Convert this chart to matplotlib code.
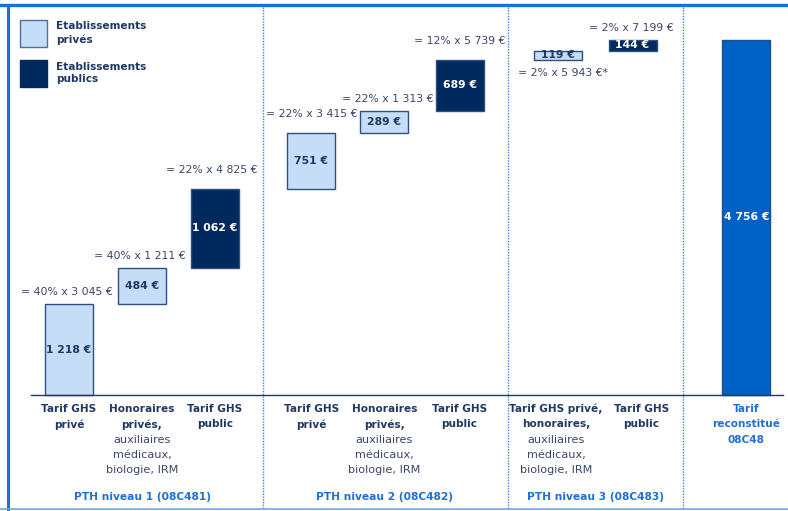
import matplotlib.pyplot as plt
from matplotlib.lines import Line2D
from matplotlib.patches import Rectangle

plt.rcParams["font.family"] = ["DejaVu Sans"]

# montants par composante (en euros)
values = [1218, 484, 1062, 751, 289, 689, 119, 144]
total = 4756
sector = ["prive", "prive", "public", "prive", "prive", "public", "prive", "public"]
value_labels = ["1 218 €", "484 €", "1 062 €", "751 €", "289 €", "689 €", "119 €", "144 €"]
total_label = "4 756 €"
formulas = ["= 40% x 3 045 €", "= 40% x 1 211 €", "= 22% x 4 825 €",
            "= 22% x 3 415 €", "= 22% x 1 313 €", "= 12% x 5 739 €",
            "= 2% x 5 943 €*", "= 2% x 7 199 €"]
cat_bold = [["Tarif GHS", "privé"], ["Honoraires", "privés,"], ["Tarif GHS", "public"],
            ["Tarif GHS", "privé"], ["Honoraires", "privés,"], ["Tarif GHS", "public"],
            ["Tarif GHS privé,", "honoraires,"], ["Tarif GHS", "public"]]
cat_regular = [[], ["auxiliaires", "médicaux,", "biologie, IRM"], [],
               [], ["auxiliaires", "médicaux,", "biologie, IRM"], [],
               ["auxiliaires", "médicaux,", "biologie, IRM"], []]
total_cat = ["Tarif", "reconstitué", "08C48"]
groups = ["PTH niveau 1 (08C481)", "PTH niveau 2 (08C482)", "PTH niveau 3 (08C483)"]
legend_labels = ["Etablissements\nprivés", "Etablissements\npublics"]

LIGHT = "#C6DDF7"
LIGHT_EDGE = "#2F4F80"
NAVY = "#002A5E"
TOTAL = "#0061C6"
TEXT_NAVY = "#1F3864"
FORMULA = "#3B4668"
GROUP_BLUE = "#1F70D2"
FRAME_BLUE = "#1A6FD8"
SEP_BLUE = "#3D85D8"

W, H = 788, 511
# one slot = 73 px, slot 0 centred at x = 69 px; baseline at y = 395 px
SLOT_PX, X0_PX, BASE_PX = 73.0, 69.0, 395.0
K = total / 355.0  # data units per pixel


def px_x(px):
    return (px - X0_PX) / SLOT_PX


def px_y(py):
    return (BASE_PX - py) * K


slots = [0, 1, 2, 3.32, 4.32, 5.35, 6.7, 7.72, 9.28]
bar_w = 48 / SLOT_PX

fig = plt.figure(figsize=(W / 100, H / 100), dpi=100)
ax = fig.add_axes([0, 0, 1, 1])
ax.set_xlim(px_x(0), px_x(W))
ax.set_ylim(px_y(H), px_y(0))
ax.axis("off")

# waterfall
bottoms = []
acc = 0
for v in values:
    bottoms.append(acc)
    acc += v

for i, v in enumerate(values):
    fc = LIGHT if sector[i] == "prive" else NAVY
    ax.bar(slots[i], v, bottom=bottoms[i], width=bar_w, color=fc,
           edgecolor=LIGHT_EDGE, linewidth=1)
    tc = TEXT_NAVY if sector[i] == "prive" else "white"
    ax.text(slots[i], bottoms[i] + v / 2, value_labels[i], ha="center", va="center",
            fontsize=7.8, fontweight="bold", color=tc)

ax.bar(slots[8], total, width=bar_w, color=TOTAL, edgecolor="#1F4E8C", linewidth=1)
ax.text(slots[8], total / 2, total_label, ha="center", va="center",
        fontsize=7.8, fontweight="bold", color="white")

# formula annotations (right edge in px, vertical gap in px)
f_right = [113, 186, 258, 357, 433, 505, 608, 674]
f_gap = [12, 12, 19, 19, 12, 19, -13, 12]
for i, txt in enumerate(formulas):
    if f_gap[i] > 0:
        y = bottoms[i] + values[i] + f_gap[i] * K
    else:
        y = bottoms[i] + f_gap[i] * K
    ax.text(px_x(f_right[i]), y, txt, ha="right", va="center",
            fontsize=7.8, color=FORMULA)

# baseline
ax.plot([px_x(31), px_x(783)], [0, 0], color=TEXT_NAVY, lw=1)

# category labels (small horizontal nudges in px)
cat_shift = [0, 0, 0, 0, 0, 0, -2, 9]
line_px = 15.3
for i in range(len(values)):
    cx = slots[i] + cat_shift[i] / SLOT_PX
    lines = [(t, "bold") for t in cat_bold[i]] + [(t, "normal") for t in cat_regular[i]]
    for j, (t, w) in enumerate(lines):
        ax.text(cx, px_y(409 + j * line_px), t, ha="center", va="center",
                fontsize=7.6 if w == "bold" else 8.1, fontweight=w,
                color=TEXT_NAVY if w == "bold" else FORMULA)
for j, t in enumerate(total_cat):
    ax.text(slots[8], px_y(409 + j * line_px), t, ha="center", va="center",
            fontsize=7.6, fontweight="bold", color=GROUP_BLUE)

group_x = [slots[1], slots[4], (slots[6] + slots[7]) / 2]
for gx, g in zip(group_x, groups):
    ax.text(gx, px_y(497), g, ha="center", va="center", fontsize=7.7,
            fontweight="bold", color=GROUP_BLUE)

# legend
for k, (lab, fc) in enumerate(zip(legend_labels, [LIGHT, NAVY])):
    top = 20 + 40 * k
    fig.patches.append(Rectangle((20 / W, 1 - (top + 27) / H), 27 / W, 27 / H,
                                 transform=fig.transFigure, facecolor=fc,
                                 edgecolor="#4F6FA0" if k == 0 else NAVY, lw=1))
    fig.text(56 / W, 1 - (top + 13) / H, lab, ha="left", va="center",
             fontsize=7.6, fontweight="bold", color=TEXT_NAVY, linespacing=1.35)

# frame and separators
fig.add_artist(Line2D([0, 1], [1 - 5 / H, 1 - 5 / H], color=FRAME_BLUE, lw=2.4,
                      transform=fig.transFigure))
fig.add_artist(Line2D([8 / W, 8 / W], [1 - 5 / H, 1 - 509 / H], color=FRAME_BLUE, lw=2.2,
                      transform=fig.transFigure))
fig.add_artist(Line2D([0, 1], [1 - 509 / H, 1 - 509 / H], color="#6FA8E0", lw=1.2,
                      transform=fig.transFigure))
for sx in [263, 508, 683]:
    fig.add_artist(Line2D([sx / W, sx / W], [1 - 7 / H, 1 - 508 / H], color=SEP_BLUE,
                          lw=1, linestyle=(0, (1, 1)), transform=fig.transFigure))

fig.savefig("out.png", dpi=100)
